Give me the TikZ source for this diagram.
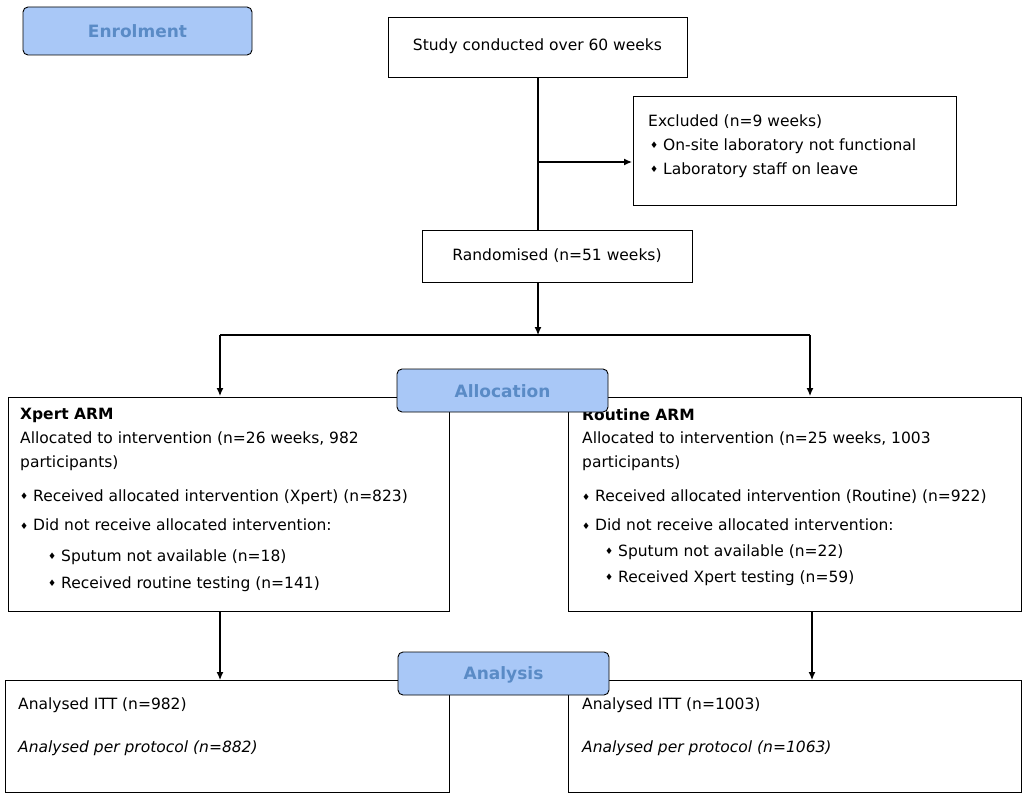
\documentclass[tikz,border=0pt]{standalone}
\usepackage{fontspec}
\usetikzlibrary{arrows.meta}
\setmainfont{DejaVu Sans}
\definecolor{hfill}{HTML}{A9C8F7}
\definecolor{htext}{HTML}{5A8BC6}
\begin{document}
\begin{tikzpicture}[x=1pt,y=-1pt,
  box/.style={draw,line width=0.9pt},
  head/.style={draw,line width=0.9pt,fill=hfill,rounded corners=5pt},
  ht/.style={text=htext,font=\fontsize{17}{20}\selectfont\bfseries},
  t/.style={anchor=west,inner sep=0pt,font=\fontsize{15.5}{18}\selectfont},
  ln/.style={line width=1.2pt},
  ar/.style={ln,-{Latex[length=8pt,width=7pt]}}]
\useasboundingbox (0,0) rectangle (1032,800);
\newcommand{\bul}{{\fontsize{9}{10}\selectfont\raisebox{1.5pt}{♦}}\ }
% boxes
\draw[head] (23,7) rectangle (252,55); \node[ht] (enr) at (137.5,31) {Enrolment};
\draw[box] (388,17) rectangle (687,77); \node[t,anchor=center] (study) at (537.5,46) {Study conducted over 60 weeks};
\draw[box] (633,96) rectangle (956,205);
\node[t] (ex) at (648,122) {Excluded (n=9 weeks)};
\node[t] at (650,146) {\bul On-site laboratory not functional};
\node[t] at (650,170) {\bul Laboratory staff on leave};
\draw[box] (422,230) rectangle (692,282); \node[t,anchor=center] (rand) at (557,256) {Randomised (n=51 weeks)};
\coordinate (s1) at (538,77); \coordinate (s2) at (538,230);
\coordinate (e1) at (538,162); \coordinate (e2) at (632,162);
\draw[ln] (s1)--(s2);
\draw[ar] (e1)--(e2);
\coordinate (r1) at (538,282); \coordinate (r2) at (538,335);
\draw[ar] (r1)--(r2);
\coordinate (hl) at (220,335); \coordinate (hr) at (810,335);
\coordinate (dl) at (220,396); \coordinate (dr) at (810,396);
\draw[ln] (hl)--(hr);
\draw[ar] (hl)--(dl); \draw[ar] (hr)--(dr);
% left box
\draw[box] (8,397) rectangle (449,611);
\node[t,font=\fontsize{15.5}{18}\selectfont\bfseries] at (20,415) {Xpert ARM};
\node[t] at (20,439) {Allocated to intervention (n=26 weeks, 982};
\node[t] at (20,463) {participants)};
\node[t] at (20,497) {\bul Received allocated intervention (Xpert) (n=823)};
\node[t] at (20,525) {\bul Did not receive allocated intervention:};
\node[t] at (48,557) {\bul Sputum not available (n=18)};
\node[t] at (48,584) {\bul Received routine testing (n=141)};
% right box
\draw[box] (568,397) rectangle (1021,611);
\node[t,font=\fontsize{15.5}{18}\selectfont\bfseries] at (582,415) {Routine ARM};
\node[t] at (582,439) {Allocated to intervention (n=25 weeks, 1003};
\node[t] at (582,463) {participants)};
\node[t] at (582,497) {\bul Received allocated intervention (Routine) (n=922)};
\node[t] at (582,525) {\bul Did not receive allocated intervention:};
\node[t] at (605,552) {\bul Sputum not available (n=22)};
\node[t] at (605,578) {\bul Received Xpert testing (n=59)};
\draw[head] (397,369) rectangle (608,412); \node[ht] (alloc) at (502.5,391) {Allocation};
% analysis
\coordinate (al1) at (220,611); \coordinate (al2) at (220,680);
\coordinate (ar1) at (812,611); \coordinate (ar2) at (812,680);
\draw[ar] (al1)--(al2); \draw[ar] (ar1)--(ar2);
\draw[box] (5,680) rectangle (449,792);
\node[t] at (18,705) {Analysed ITT (n=982)};
\node[t,font=\fontsize{15.5}{18}\selectfont\itshape] at (18,748) {Analysed per protocol (n=882)};
\draw[box] (568,680) rectangle (1021,792);
\node[t] at (582,705) {Analysed ITT (n=1003)};
\node[t,font=\fontsize{15.5}{18}\selectfont\itshape] at (582,748) {Analysed per protocol (n=1063)};
\draw[head] (398,652) rectangle (609,695); \node[ht] (ana) at (503.5,675) {Analysis};
\end{tikzpicture}
\end{document}
